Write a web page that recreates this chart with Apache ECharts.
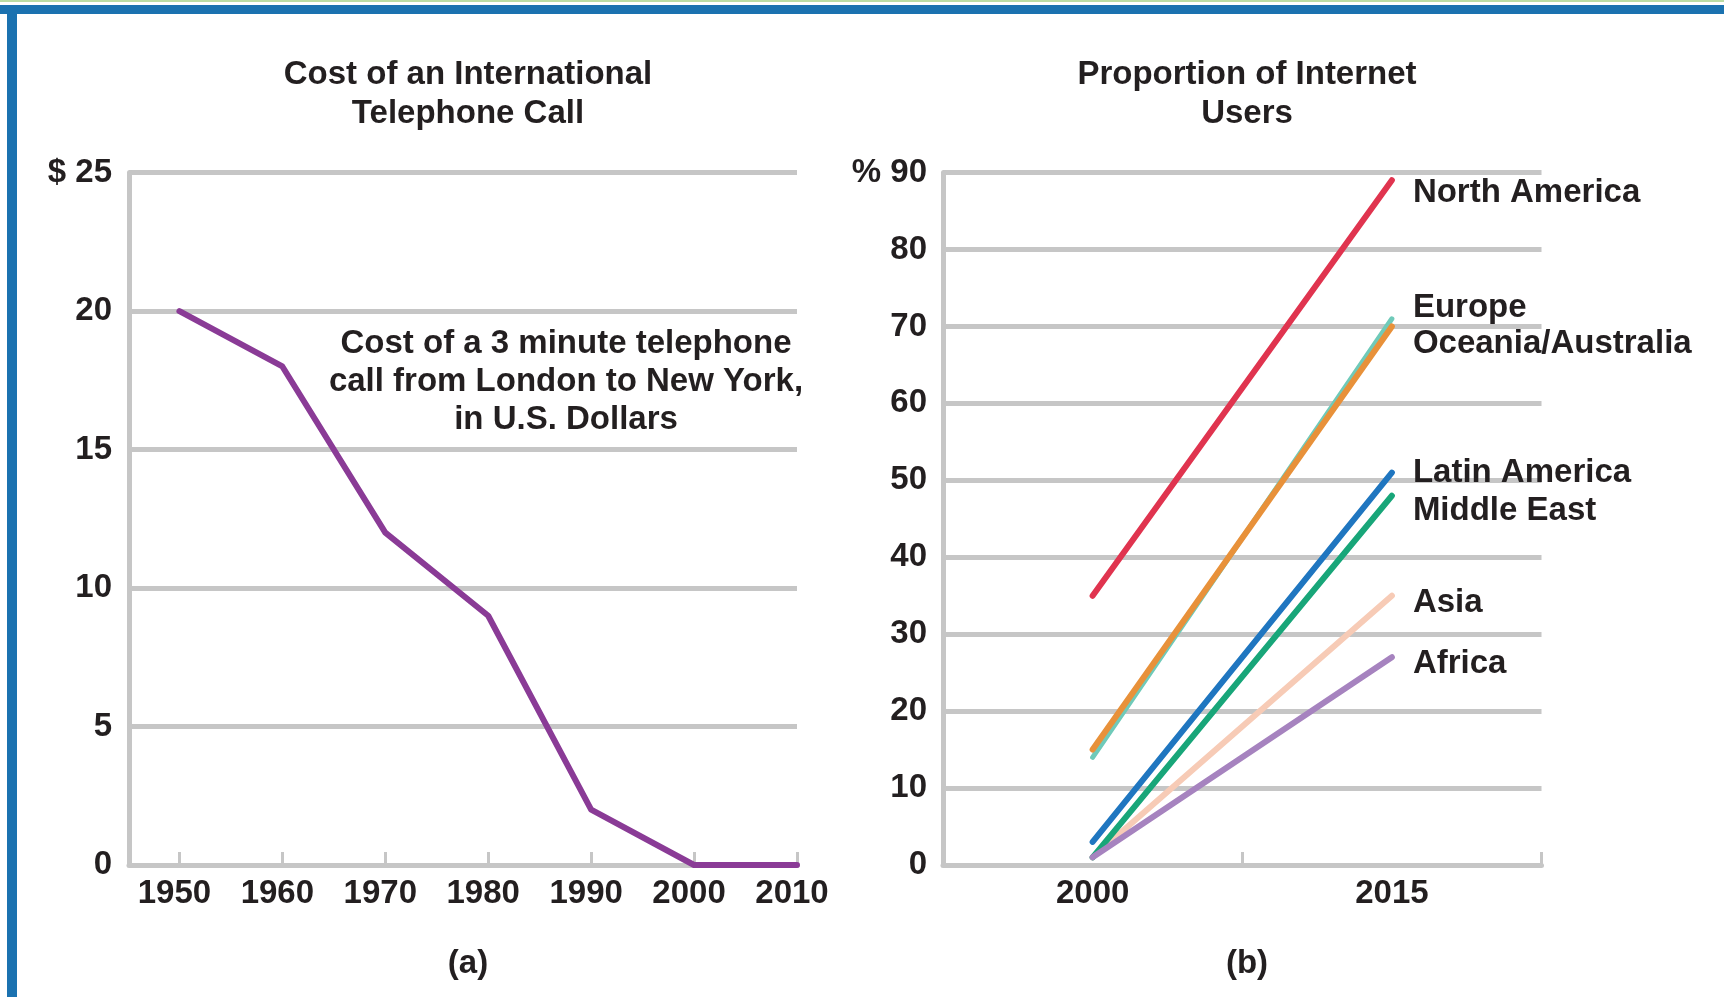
<!DOCTYPE html>
<html>
<head>
<meta charset="utf-8">
<script src="https://cdn.jsdelivr.net/npm/echarts@6/dist/echarts.min.js"></script>
<style>
  html, body { margin: 0; padding: 0; background: #ffffff; }
  #chart { width: 1724px; height: 997px; }
</style>
</head>
<body>
<div id="chart"></div>
<script>
// ---- Data: Cost of an international telephone call ----
const costYears = [1950, 1960, 1970, 1980, 1990, 2000, 2010];
const costValues = [20, 18, 12, 9, 2, 0, 0];
const costTickYears = [1950, 1960, 1970, 1980, 1990, 2000, 2010];

// ---- Data: Proportion of internet users ----
const regionYears = ['2000', '2015'];
const northAmerica = [35, 89];
const europe = [14, 71];
const oceania = [15, 70];
const latinAmerica = [3, 51];
const middleEast = [1, 48];
const asia = [1, 35];
const africa = [1, 27];

const FONT = "'Liberation Sans', Arial, Helvetica, sans-serif";
const TXT = '#231f20';
const GRID = '#c6c6c6';
const GW = 5;
const FS = 33;

const chart = echarts.init(document.getElementById('chart'), null, { renderer: 'canvas' });

function regionSeries(name, data, color, width, dy) {
  return {
    name: name,
    type: 'line',
    xAxisIndex: 1,
    yAxisIndex: 1,
    data: data,
    symbol: 'none',
    lineStyle: { color: color, width: width, cap: 'round', join: 'round' },
    endLabel: {
      show: true,
      formatter: '{a}',
      color: TXT,
      fontFamily: FONT,
      fontWeight: 'bold',
      fontSize: FS,
      distance: 21,
      offset: [0, dy],
      align: 'left',
      verticalAlign: 'middle'
    },
    emphasis: { disabled: true }
  };
}

const option = {
  backgroundColor: '#ffffff',
  animation: false,
  textStyle: { fontFamily: FONT },
  title: [
    {
      text: 'Cost of an International\nTelephone Call',
      left: 463, top: 51, textAlign: 'center',
      textStyle: { fontFamily: FONT, fontWeight: 'bold', fontSize: FS, lineHeight: 38.5, color: TXT }
    },
    {
      text: 'Proportion of Internet\nUsers',
      left: 1242, top: 51, textAlign: 'center',
      textStyle: { fontFamily: FONT, fontWeight: 'bold', fontSize: FS, lineHeight: 38.5, color: TXT }
    },
    {
      text: '(a)', left: 463, top: 940, textAlign: 'center',
      textStyle: { fontFamily: FONT, fontWeight: 'bold', fontSize: FS, lineHeight: 38, color: TXT }
    },
    {
      text: '(b)', left: 1242, top: 940, textAlign: 'center',
      textStyle: { fontFamily: FONT, fontWeight: 'bold', fontSize: FS, lineHeight: 38, color: TXT }
    }
  ],
  grid: [
    { left: 129, top: 172.6, width: 668, height: 692.4, containLabel: false },
    { left: 943, top: 172.6, width: 598.5, height: 692.4, containLabel: false }
  ],
  xAxis: [
    {
      type: 'value', gridIndex: 0, min: 1945.1, max: 2010,
      axisLine: { show: true, lineStyle: { color: GRID, width: GW } },
      axisTick: { show: true, inside: true, length: 13, customValues: costTickYears, lineStyle: { color: GRID, width: 3 } },
      axisLabel: { show: true, customValues: costTickYears, margin: 12, padding: [0, 10, 0, 0], color: TXT, fontFamily: FONT, fontWeight: 'bold', fontSize: FS, formatter: v => String(v) },
      splitLine: { show: false }
    },
    {
      type: 'category', gridIndex: 1, data: regionYears, boundaryGap: true,
      axisLine: { show: true, lineStyle: { color: GRID, width: GW } },
      axisTick: { show: true, inside: true, length: 13, alignWithLabel: false, lineStyle: { color: GRID, width: 3 } },
      axisLabel: { show: true, margin: 12, color: TXT, fontFamily: FONT, fontWeight: 'bold', fontSize: FS },
      splitLine: { show: false }
    }
  ],
  yAxis: [
    {
      type: 'value', gridIndex: 0, min: 0, max: 25, interval: 5,
      axisLine: { show: true, lineStyle: { color: GRID, width: GW } },
      axisTick: { show: false },
      axisLabel: { margin: 17, color: TXT, fontFamily: FONT, fontWeight: 'bold', fontSize: FS, formatter: v => (v === 25 ? '$ 25' : String(v)) },
      splitLine: { show: true, lineStyle: { color: GRID, width: GW } }
    },
    {
      type: 'value', gridIndex: 1, min: 0, max: 90, interval: 10,
      axisLine: { show: true, lineStyle: { color: GRID, width: GW } },
      axisTick: { show: false },
      axisLabel: { margin: 16, color: TXT, fontFamily: FONT, fontWeight: 'bold', fontSize: FS, formatter: v => (v === 90 ? '% 90' : String(v)) },
      splitLine: { show: true, lineStyle: { color: GRID, width: GW } }
    }
  ],
  graphic: [
    { type: 'rect', shape: { x: 0, y: 0, width: 1724, height: 2 }, style: { fill: '#bcdca4' }, silent: true },
    { type: 'rect', shape: { x: 0, y: 5, width: 1724, height: 9 }, style: { fill: '#1b72b0' }, silent: true },
    { type: 'rect', shape: { x: 7, y: 5, width: 10, height: 992 }, style: { fill: '#1b72b0' }, silent: true },
    {
      type: 'text', silent: true,
      style: {
        x: 566, y: 325, text: 'Cost of a 3 minute telephone\ncall from London to New York,\nin U.S. Dollars',
        align: 'center', verticalAlign: 'top', fill: TXT,
        font: 'bold ' + FS + 'px ' + FONT, lineHeight: 38
      }
    }
  ],
  series: [
    {
      name: 'Cost', type: 'line', xAxisIndex: 0, yAxisIndex: 0,
      data: costYears.map((y, i) => [y, costValues[i]]),
      symbol: 'none',
      lineStyle: { color: '#8a3b96', width: 6, join: 'round', cap: 'round' },
      emphasis: { disabled: true }
    },
    regionSeries('Asia', asia, '#f7cbb6', 6, 7),
    regionSeries('Europe', europe, '#6fcab9', 5, -11),
    regionSeries('Oceania/Australia', oceania, '#e8913a', 6, 17),
    regionSeries('North America', northAmerica, '#e0344f', 6, 13),
    regionSeries('Latin America', latinAmerica, '#1f76c0', 6, 0),
    regionSeries('Middle East', middleEast, '#18a679', 6, 15),
    regionSeries('Africa', africa, '#a683bf', 6, 7)
  ]
};

chart.setOption(option);
</script>
</body>
</html>
